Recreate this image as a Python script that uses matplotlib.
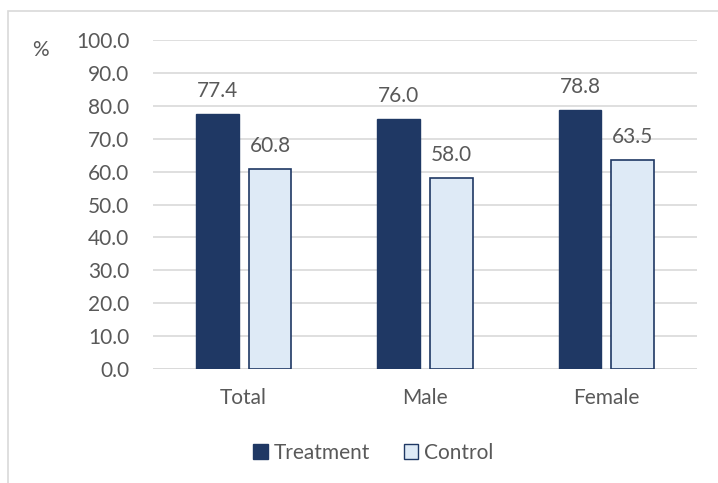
import matplotlib.pyplot as plt
import numpy as np
from matplotlib.patches import Rectangle, Patch

categories = ["Total", "Male", "Female"]
treatment = [77.4, 76.0, 78.8]
control = [60.8, 58.0, 63.5]
yticks = np.arange(0, 101, 10)

navy = "#1F3864"
light = "#DEEAF6"
text_c = "#595959"
grid_c = "#D9D9D9"
fs = 15

plt.rcParams['font.family'] = ['Lato', 'DejaVu Sans']

fig = plt.figure(figsize=(7.18, 4.83), dpi=100)
ax = fig.add_axes([0.213, 0.236, 0.758, 0.681])

x = np.arange(len(categories))
w = 0.235
gap = 0.055
b1 = ax.bar(x - (w + gap) / 2, treatment, w, color=navy, edgecolor=navy, linewidth=1, zorder=3)
b2 = ax.bar(x + (w + gap) / 2, control, w, color=light, edgecolor=navy, linewidth=1.2, zorder=3)

for bars, vals in ((b1, treatment), (b2, control)):
    for r, v in zip(bars, vals):
        ax.text(r.get_x() + r.get_width() / 2, v + 4.0, f"{v:.1f}",
                ha="center", va="bottom", fontsize=fs, color=text_c)

ax.set_xlim(-0.5, 2.5)
ax.set_ylim(0, 100)
ax.set_yticks(yticks)
ax.set_yticklabels([f"{t:.1f}" for t in yticks])
ax.set_xticks(x)
ax.set_xticklabels(categories)
ax.tick_params(axis="both", length=0, labelsize=fs, colors=text_c)
ax.tick_params(axis="y", pad=17)
ax.tick_params(axis="x", pad=14)
ax.yaxis.grid(True, color=grid_c, linewidth=1.2, zorder=0)
for s in ax.spines.values():
    s.set_visible(False)
ax.axhline(0, color=grid_c, linewidth=1.2, zorder=2)

fig.text(40 / 718, 1 - 50 / 483, "%", fontsize=fs, color=text_c, ha="center", va="center")

handles = [Patch(facecolor=navy, edgecolor=navy, label="Treatment"),
           Patch(facecolor=light, edgecolor=navy, label="Control")]
fig.legend(handles=handles, loc="center", bbox_to_anchor=(0.52, 1 - 453 / 483), ncol=2,
           frameon=False, fontsize=fs, labelcolor=text_c, handlelength=0.7,
           handleheight=0.7, handletextpad=0.3, columnspacing=1.6)

fig.patches.append(Rectangle((8 / 718, -0.1), 1.2, 1 - 11 / 483 + 0.1,
                             transform=fig.transFigure, fill=False,
                             edgecolor=grid_c, linewidth=1.2))

fig.savefig("out.png", dpi=100)
